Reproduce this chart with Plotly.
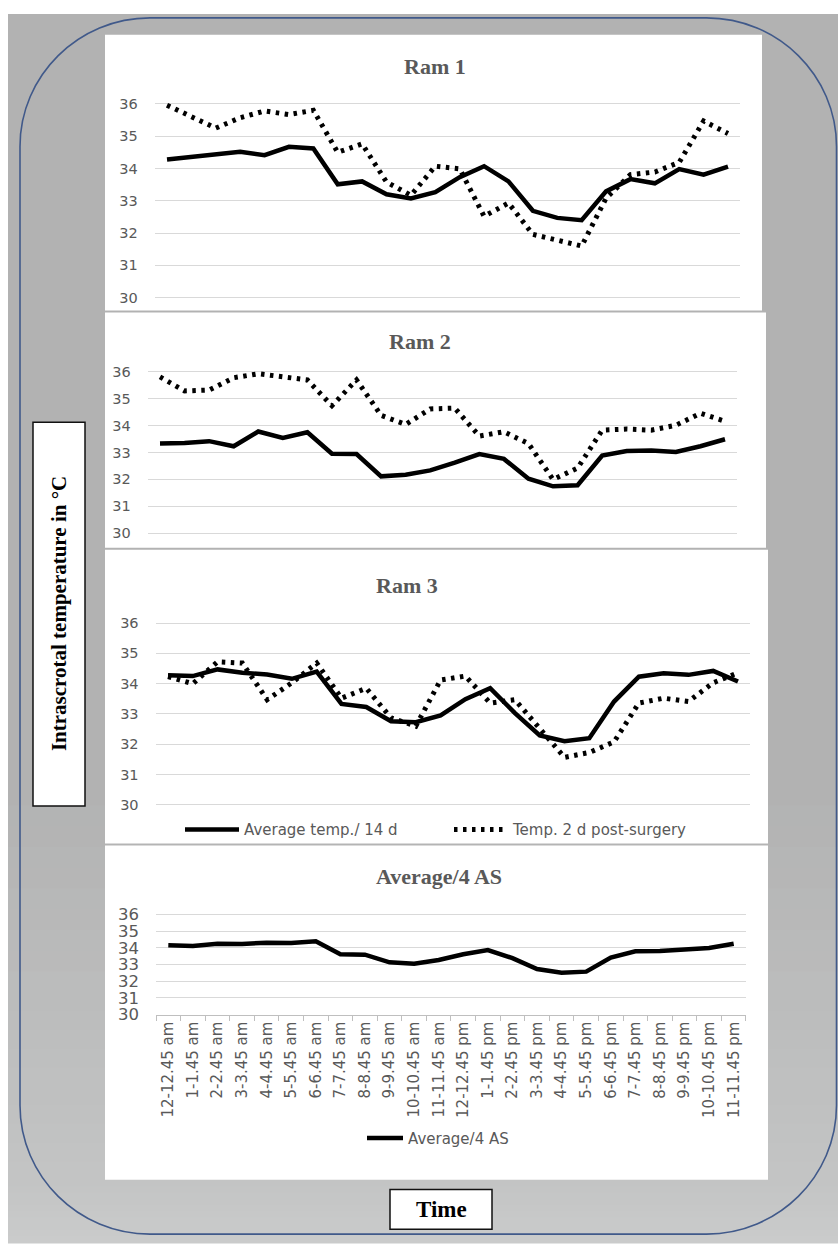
import plotly.graph_objects as go

# Time slots (hourly, 45-min recordings)
time_slots = [
    "12-12.45 am", "1-1.45 am", "2-2.45 am", "3-3.45 am", "4-4.45 am", "5-5.45 am",
    "6-6.45 am", "7-7.45 am", "8-8.45 am", "9-9.45 am", "10-10.45 am", "11-11.45 am",
    "12-12.45 pm", "1-1.45 pm", "2-2.45 pm", "3-3.45 pm", "4-4.45 pm", "5-5.45 pm",
    "6-6.45 pm", "7-7.45 pm", "8-8.45 pm", "9-9.45 pm", "10-10.45 pm", "11-11.45 pm",
]

# Ram 1
ram1_avg14 = [34.28, 34.35, 34.43, 34.52, 34.41, 34.67, 34.62, 33.51, 33.60, 33.20, 33.07, 33.27,
              33.73, 34.07, 33.60, 32.69, 32.47, 32.40, 33.29, 33.67, 33.54, 33.98, 33.81, 34.06]
ram1_post2 = [35.96, 35.60, 35.25, 35.57, 35.78, 35.67, 35.80, 34.50, 34.76, 33.58, 33.17, 34.07,
              33.99, 32.52, 32.93, 31.96, 31.78, 31.60, 33.08, 33.81, 33.89, 34.19, 35.47, 35.08]

# Ram 2
ram2_avg14 = [33.33, 33.35, 33.42, 33.23, 33.78, 33.54, 33.75, 32.95, 32.94, 32.11, 32.17, 32.33,
              32.62, 32.94, 32.76, 32.02, 31.74, 31.78, 32.88, 33.05, 33.07, 33.02, 33.23, 33.49]
ram2_post2 = [35.81, 35.29, 35.32, 35.78, 35.93, 35.81, 35.70, 34.74, 35.70, 34.38, 34.04, 34.62,
              34.65, 33.61, 33.77, 33.33, 31.99, 32.42, 33.83, 33.87, 33.83, 34.01, 34.46, 34.16]

# Ram 3
ram3_avg14 = [34.28, 34.25, 34.47, 34.36, 34.30, 34.16, 34.40, 33.33, 33.23, 32.76, 32.73, 32.95,
              33.49, 33.85, 33.03, 32.29, 32.10, 32.20, 33.41, 34.23, 34.34, 34.29, 34.42, 34.07]
ram3_post2 = [34.23, 34.00, 34.72, 34.68, 33.47, 34.03, 34.68, 33.52, 33.85, 32.87, 32.60, 34.12,
              34.25, 33.36, 33.47, 32.49, 31.57, 31.73, 32.08, 33.36, 33.52, 33.41, 34.03, 34.36]

# Average of the four animals
avg_4as = [34.16, 34.12, 34.26, 34.24, 34.32, 34.30, 34.40, 33.62, 33.60, 33.14, 33.06, 33.28,
           33.62, 33.88, 33.39, 32.74, 32.52, 32.58, 33.43, 33.80, 33.82, 33.92, 34.00, 34.26]

y_ticks = [30, 31, 32, 33, 34, 35, 36]

W, H = 838, 1253


def fx(p):
    return p / W


def fy(p):
    return 1 - p / H


TICK_FONT = "DejaVu Sans"
SERIF = "Liberation Serif, Times New Roman, serif"
GRAY_TXT = "#595959"
GRID = "#d9d9d9"

fig = go.Figure()

# panel geometry: (x of first category, x of last category, px of 30, px of 36, y range)
panels = [
    dict(x0=167, x1=728, p30=297, p36=101, yr=(29.8, 36.2)),
    dict(x0=160, x1=725, p30=535, p36=372, yr=(29.8, 36.2)),
    dict(x0=168, x1=738, p30=810, p36=626, yr=(29.8, 36.2)),
    dict(x0=168.3, x1=733.7, p30=1022, p36=921, yr=(30.0, 36.3)),
]

layout_axes = {}
for i, p in enumerate(panels, start=1):
    step = (p["x1"] - p["x0"]) / (len(time_slots) - 1)
    left, right = p["x0"] - step / 2, p["x1"] + step / 2
    unit = (p["p30"] - p["p36"]) / 6.0
    y_lo, y_hi = p["yr"]
    py_lo = p["p30"] + (30 - y_lo) * unit
    py_hi = p["p36"] - (y_hi - 36) * unit
    sfx = "" if i == 1 else str(i)
    last = i == 4
    layout_axes["xaxis" + sfx] = dict(
        domain=[fx(left), fx(right)], anchor="y" + sfx, type="category",
        range=[-0.5, len(time_slots) - 0.5], showgrid=False, zeroline=False,
        showticklabels=last, showline=last, linecolor="#bfbfbf", linewidth=1,
        ticks="outside" if last else "", ticklen=5, tickcolor="#bfbfbf",
        tickson="boundaries", tickangle=-90,
        tickfont=dict(family=TICK_FONT, size=15, color=GRAY_TXT),
        fixedrange=True,
    )
    layout_axes["yaxis" + sfx] = dict(
        domain=[fy(py_lo), fy(py_hi)], anchor="x" + sfx, range=[y_lo, y_hi],
        tickvals=y_ticks, showgrid=True, gridcolor=GRID, gridwidth=1, zeroline=False,
        showline=False, ticks="", ticklabelstandoff=16,
        tickfont=dict(family=TICK_FONT, size=16.5 if last else 14.5, color=GRAY_TXT),
        fixedrange=True,
    )

solid = dict(color="black", width=4.5)
dotted = dict(color="black", width=5, dash="3.5px,5.5px")

series = [
    ("x", "y", ram1_avg14, ram1_post2, False),
    ("x2", "y2", ram2_avg14, ram2_post2, False),
    ("x3", "y3", ram3_avg14, ram3_post2, True),
]
for xa, ya, a14, p2, show in series:
    fig.add_trace(go.Scatter(x=time_slots, y=a14, mode="lines", line=solid,
                             name="Average temp./ 14 d", xaxis=xa, yaxis=ya,
                             showlegend=show, legend="legend"))
    fig.add_trace(go.Scatter(x=time_slots, y=p2, mode="lines", line=dotted,
                             name="Temp. 2 d post-surgery", xaxis=xa, yaxis=ya,
                             showlegend=show, legend="legend"))

fig.add_trace(go.Scatter(x=time_slots, y=avg_4as, mode="lines", line=solid,
                         name="Average/4 AS", xaxis="x4", yaxis="y4",
                         showlegend=True, legend="legend2"))

shapes = []
# page background: white edge, gray fill that lightens towards the bottom
TOP_GRAY = (0xb2, 0xb2, 0xb2)
shapes.append(dict(type="rect", xref="paper", yref="paper", x0=fx(8), x1=1, y0=fy(790), y1=fy(10),
                   fillcolor="rgb(%d,%d,%d)" % TOP_GRAY, line_width=0, layer="below"))
bands = [(790, TOP_GRAY), (1000, (0xbb, 0xbc, 0xbc)),
         (1190, (0xc3, 0xc4, 0xc4)), (1253, (0xca, 0xcb, 0xcb))]
prev_y, prev_c = bands[0]
for y_end, col in bands[1:]:
    n = 10
    for k in range(n):
        ya = prev_y + (y_end - prev_y) * k / n
        yb = prev_y + (y_end - prev_y) * (k + 1) / n
        t = (k + 0.5) / n
        c = tuple(int(round(prev_c[j] + (col[j] - prev_c[j]) * t)) for j in range(3))
        shapes.append(dict(type="rect", xref="paper", yref="paper", x0=fx(8), x1=1,
                           y0=fy(yb + 0.5), y1=fy(ya - 0.5), fillcolor="rgb(%d,%d,%d)" % c,
                           line_width=0, layer="below"))
    prev_y, prev_c = y_end, col

# rounded frame
L, R, T, B, r = 20, 836.5, 14, 1244, 130
k = 0.45
path = (
    f"M {fx(L + r)},{fy(T)} L {fx(R - r)},{fy(T)} "
    f"C {fx(R - r * k)},{fy(T)} {fx(R)},{fy(T + r * k)} {fx(R)},{fy(T + r)} "
    f"L {fx(R)},{fy(B - r)} "
    f"C {fx(R)},{fy(B - r * k)} {fx(R - r * k)},{fy(B)} {fx(R - r)},{fy(B)} "
    f"L {fx(L + r)},{fy(B)} "
    f"C {fx(L + r * k)},{fy(B)} {fx(L)},{fy(B - r * k)} {fx(L)},{fy(B - r)} "
    f"L {fx(L)},{fy(T + r)} "
    f"C {fx(L)},{fy(T + r * k)} {fx(L + r * k)},{fy(T)} {fx(L + r)},{fy(T)} Z"
)
shapes.append(dict(type="path", xref="paper", yref="paper", path=path,
                   line=dict(color="#40598a", width=1.6), layer="below"))

# white chart panels
for x0, x1, y0, y1 in [(105, 762, 31, 310), (105, 766, 312, 550),
                       (105, 768, 552, 849), (105, 768, 851, 1189)]:
    shapes.append(dict(type="rect", xref="paper", yref="paper", x0=fx(x0), x1=fx(x1),
                       y0=fy(y1), y1=fy(y0), fillcolor="white", line_width=0, layer="below"))

# boxed axis captions
shapes.append(dict(type="rect", xref="paper", yref="paper", x0=fx(33), x1=fx(85),
                   y0=fy(811), y1=fy(423), fillcolor="white",
                   line=dict(color="#111111", width=1.5), layer="below"))
shapes.append(dict(type="rect", xref="paper", yref="paper", x0=fx(390), x1=fx(492),
                   y0=fy(1239), y1=fy(1199), fillcolor="white",
                   line=dict(color="#111111", width=1.5), layer="below"))

annotations = []
for text, cx, cy in [("Ram 1", 435, 63), ("Ram 2", 420, 341),
                     ("Ram 3", 407, 588), ("Average/4 AS", 439, 882)]:
    annotations.append(dict(text=f"<b>{text}</b>", x=fx(cx), y=fy(cy), xref="paper", yref="paper",
                            xanchor="center", yanchor="middle", showarrow=False,
                            font=dict(family=SERIF, size=22, color=GRAY_TXT)))
annotations.append(dict(text="<b>Intrascrotal temperature in °C</b>", x=fx(59), y=fy(617),
                        xref="paper", yref="paper", xanchor="center", yanchor="middle",
                        textangle=-90, showarrow=False,
                        font=dict(family=SERIF, size=21, color="black")))
annotations.append(dict(text="<b>Time</b>", x=fx(441), y=fy(1219), xref="paper", yref="paper",
                        xanchor="center", yanchor="middle", showarrow=False,
                        font=dict(family=SERIF, size=23, color="black")))

fig.update_layout(
    width=W, height=H, autosize=False,
    margin=dict(l=0, r=0, t=0, b=0, pad=0),
    paper_bgcolor="white", plot_bgcolor="rgba(0,0,0,0)",
    shapes=shapes, annotations=annotations,
    legend=dict(orientation="h", x=fx(180), xanchor="left", y=fy(835), yanchor="middle",
                bgcolor="rgba(0,0,0,0)", itemwidth=54, entrywidth=200,
                font=dict(family=TICK_FONT, size=15, color=GRAY_TXT)),
    legend2=dict(orientation="h", x=fx(362), xanchor="left", y=fy(1147), yanchor="middle",
                 bgcolor="rgba(0,0,0,0)", itemwidth=36,
                 font=dict(family=TICK_FONT, size=15, color=GRAY_TXT)),
    **layout_axes,
)

fig.write_html("out.html")
